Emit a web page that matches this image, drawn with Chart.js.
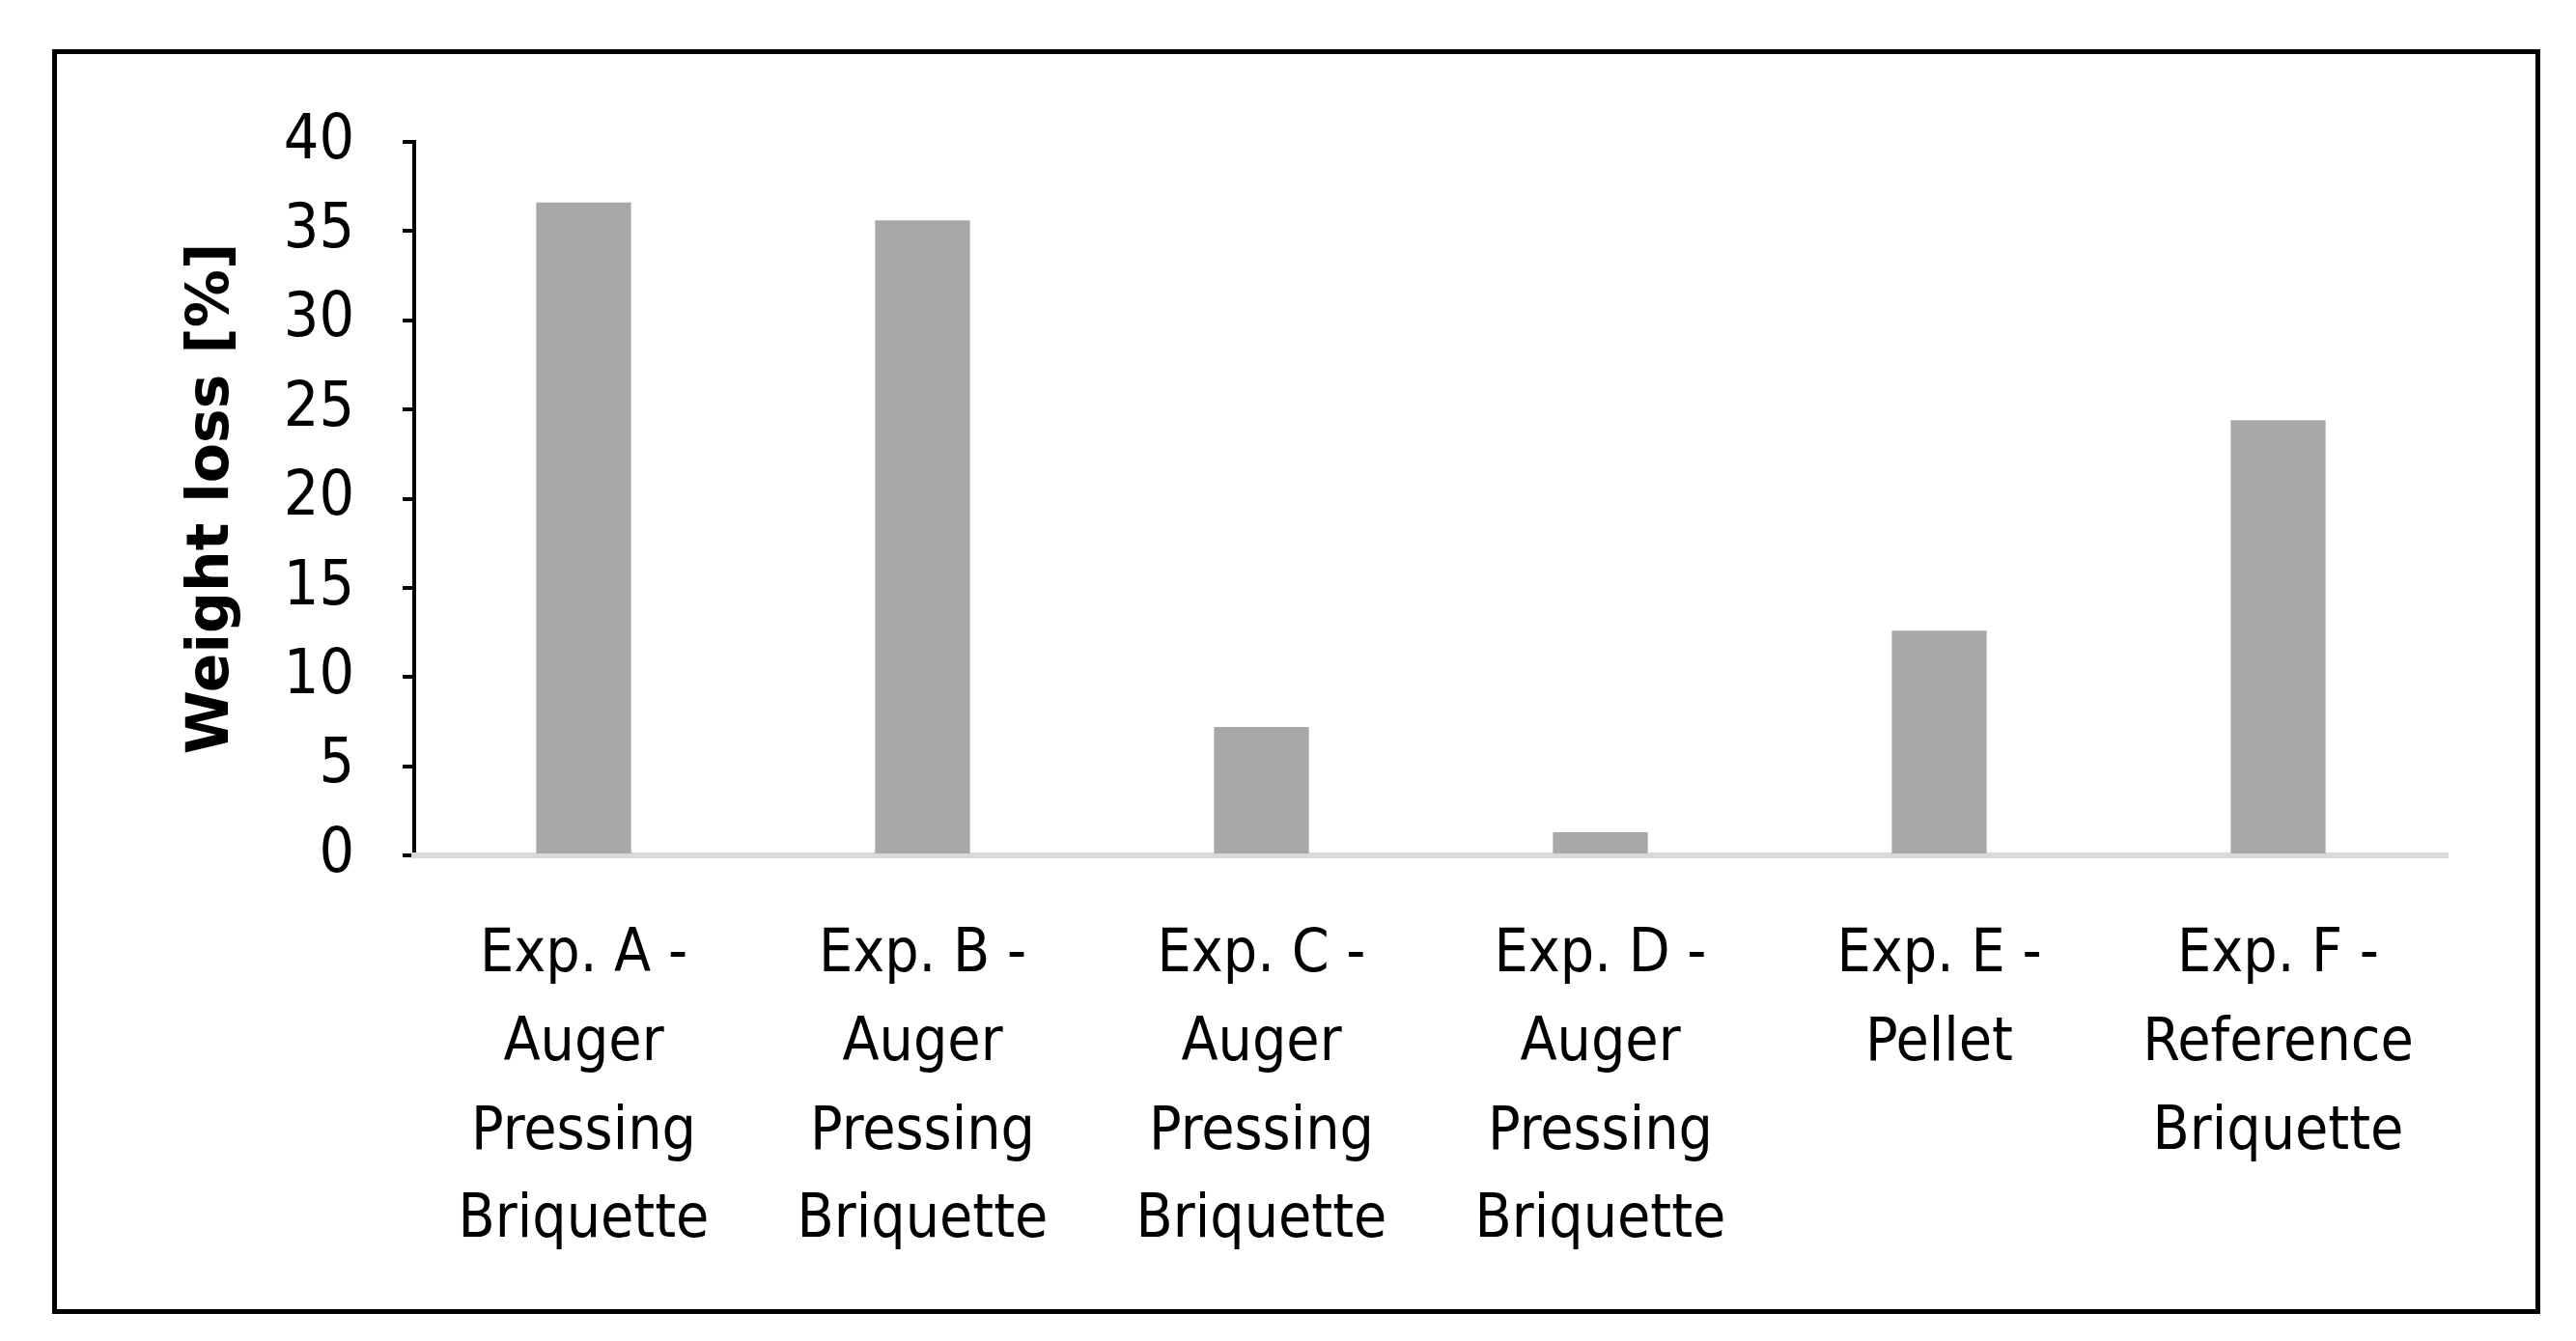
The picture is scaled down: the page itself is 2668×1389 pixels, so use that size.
<!DOCTYPE html>
<html><head><meta charset="utf-8">
<script src="https://cdn.jsdelivr.net/npm/chart.js@4/dist/chart.umd.min.js"></script>
<style>
html,body{margin:0;padding:0;background:#fff;}
#wrap{position:relative;width:2668px;height:1389px;}
#frame{position:absolute;left:54px;top:51px;width:2567px;height:1300px;border:5px solid #000;pointer-events:none;}
canvas{position:absolute;left:0;top:0;}
</style></head>
<body><div id="wrap"><canvas id="c" width="2668" height="1389"></canvas><div id="frame"></div></div>
<script>
const categories = [
  ['Exp. A -', 'Auger', 'Pressing', 'Briquette'],
  ['Exp. B -', 'Auger', 'Pressing', 'Briquette'],
  ['Exp. C -', 'Auger', 'Pressing', 'Briquette'],
  ['Exp. D -', 'Auger', 'Pressing', 'Briquette'],
  ['Exp. E -', 'Pellet'],
  ['Exp. F -', 'Reference', 'Briquette']
];
const weightLoss = [36.6, 35.6, 7.2, 1.3, 12.6, 24.4];
const yTicks = [0, 5, 10, 15, 20, 25, 30, 35, 40];

const font = "'Liberation Sans Narrow', 'DejaVu Sans Condensed', sans-serif";

new Chart(document.getElementById('c'), {
  type: 'bar',
  data: {
    labels: categories,
    datasets: [{
      data: weightLoss,
      backgroundColor: '#a8a8a8',
      categoryPercentage: 1,
      barPercentage: 0.28
    }]
  },
  options: {
    responsive: false,
    animation: false,
    devicePixelRatio: 1,
    plugins: { legend: { display: false }, tooltip: { enabled: false } },
    layout: { padding: { left: 180, top: 147, right: 133, bottom: 0 } },
    scales: {
      y: {
        min: 0, max: 40,
        afterBuildTicks: s => { s.ticks = yTicks.map(v => ({ value: v })); },
        afterFit: s => { s.width = 249; },
        border: { display: true, color: '#000', width: 4 },
        grid: { drawOnChartArea: false, drawTicks: true, tickLength: 12, color: '#000', lineWidth: 4 },
        ticks: { font: { family: font, size: 64 }, color: '#000', padding: 50 },
        title: { display: true, text: 'Weight loss [%]', font: { family: "'DejaVu Sans', sans-serif", size: 60, weight: 'bold' }, color: '#000', padding: 4 }
      },
      x: {
        afterFit: s => { s.height = 503; },
        border: { display: true, color: '#d9d9d9', width: 6 },
        grid: { display: false },
        ticks: { font: { family: font, size: 62, lineHeight: 1.48 }, color: '#000', padding: 50, maxRotation: 0, autoSkip: false }
      }
    }
  }
});
</script></body></html>
